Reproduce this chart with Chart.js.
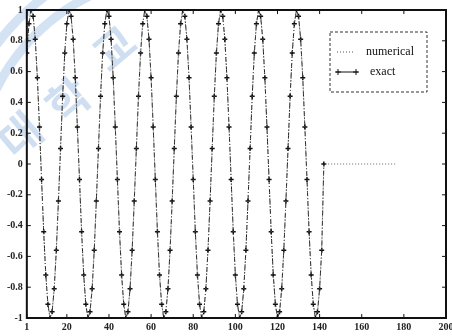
<!DOCTYPE html>
<html>
<head>
<meta charset="utf-8">
<script src="https://cdn.jsdelivr.net/npm/chart.js@4.4.0/dist/chart.umd.min.js"></script>
<style>
  html, body { margin: 0; padding: 0; background: #fff; overflow: hidden; }
  #wrap { width: 462px; height: 336px; }
</style>
</head>
<body>
<div id="wrap"><canvas id="chart" width="462" height="336"></canvas></div>
<script>
// sample positions of the exact solution
const exactX = [
    1, 2, 3, 4, 5, 6, 7, 8, 9, 10, 11, 12, 13, 14, 15, 16, 17, 18,
    19, 20, 21, 22, 23, 24, 25, 26, 27, 28, 29, 30, 31, 32, 33, 34, 35, 36,
    37, 38, 39, 40, 41, 42, 43, 44, 45, 46, 47, 48, 49, 50, 51, 52, 53, 54,
    55, 56, 57, 58, 59, 60, 61, 62, 63, 64, 65, 66, 67, 68, 69, 70, 71, 72,
    73, 74, 75, 76, 77, 78, 79, 80, 81, 82, 83, 84, 85, 86, 87, 88, 89, 90,
    91, 92, 93, 94, 95, 96, 97, 98, 99, 100, 101, 102, 103, 104, 105, 106, 107, 108,
    109, 110, 111, 112, 113, 114, 115, 116, 117, 118, 119, 120, 121, 122, 123, 124, 125, 126,
    127, 128, 129, 130, 131, 132, 133, 134, 135, 136, 137, 138, 139, 140, 141, 142
];

const exactY = [
    0.72, 0.91, 1.00, 0.96, 0.81, 0.56, 0.24, -0.10, -0.44, -0.72, -0.91, -1.00, -0.96, -0.81, -0.56, -0.24, 0.10, 0.44,
    0.72, 0.91, 1.00, 0.96, 0.81, 0.56, 0.24, -0.10, -0.44, -0.72, -0.91, -1.00, -0.96, -0.81, -0.56, -0.24, 0.10, 0.44,
    0.72, 0.91, 1.00, 0.96, 0.81, 0.56, 0.24, -0.10, -0.44, -0.72, -0.91, -1.00, -0.96, -0.81, -0.56, -0.24, 0.10, 0.44,
    0.72, 0.91, 1.00, 0.96, 0.81, 0.56, 0.24, -0.10, -0.44, -0.72, -0.91, -1.00, -0.96, -0.81, -0.56, -0.24, 0.10, 0.44,
    0.72, 0.91, 1.00, 0.96, 0.81, 0.56, 0.24, -0.10, -0.44, -0.72, -0.91, -1.00, -0.96, -0.81, -0.56, -0.24, 0.10, 0.44,
    0.72, 0.91, 1.00, 0.96, 0.81, 0.56, 0.24, -0.10, -0.44, -0.72, -0.91, -1.00, -0.96, -0.81, -0.56, -0.24, 0.10, 0.44,
    0.72, 0.91, 1.00, 0.96, 0.81, 0.56, 0.24, -0.10, -0.44, -0.72, -0.91, -1.00, -0.96, -0.81, -0.56, -0.24, 0.10, 0.44,
    0.72, 0.91, 1.00, 0.96, 0.81, 0.56, 0.24, -0.10, -0.44, -0.72, -0.91, -1.00, -0.96, -0.81, -0.56, 0.00
];

// numerical solution follows the exact one, then stays flat at zero
const numericalX = [...exactX, 176];
const numericalY = [...exactY, 0.00];

const xTicks = [1, 20, 40, 60, 80, 100, 120, 140, 160, 180, 200];
const yTicks = [-1, -0.8, -0.6, -0.4, -0.2, 0, 0.2, 0.4, 0.6, 0.8, 1];

const labelFont = { family: 'Liberation Serif', size: 10, weight: 'bold' };

function toPoints(xs, ys) {
    return xs.map((x, i) => ({ x: x, y: ys[i] }));
}

// faint scanned watermark behind the plot
const watermark = {
    id: 'watermark',
    beforeDraw(chart) {
        const ctx = chart.ctx;
        ctx.save();
        ctx.strokeStyle = 'rgba(170, 200, 232, 0.5)';
        ctx.lineWidth = 9;
        [205, 228].forEach(r => {
            ctx.beginPath();
            ctx.arc(180, 180, r, Math.PI * 1.02, Math.PI * 1.48);
            ctx.stroke();
        });
        ctx.fillStyle = 'rgba(160, 192, 228, 0.5)';
        ctx.font = 'bold 44px "Noto Sans CJK KR"';
        ctx.textAlign = 'center';
        ctx.textBaseline = 'middle';
        [['대', 20, 135], ['학', 68, 100], ['교', 114, 48]].forEach(([ch, x, y]) => {
            ctx.save();
            ctx.translate(x, y);
            ctx.rotate(-0.7);
            ctx.fillText(ch, 0, 0);
            ctx.restore();
        });
        ctx.restore();
    }
};

// box frame with inward ticks and the boxed legend
const frame = {
    id: 'frame',
    afterDraw(chart) {
        const ctx = chart.ctx;
        const a = chart.chartArea;
        const xs = chart.scales.x;
        const ys = chart.scales.y;
        ctx.save();
        ctx.strokeStyle = '#111';
        ctx.lineWidth = 1;
        xTicks.forEach(v => {
            const px = xs.getPixelForValue(v);
            ctx.beginPath();
            ctx.moveTo(px, a.bottom); ctx.lineTo(px, a.bottom - 4);
            ctx.moveTo(px, a.top); ctx.lineTo(px, a.top + 4);
            ctx.stroke();
        });
        yTicks.forEach(v => {
            const py = ys.getPixelForValue(v);
            ctx.beginPath();
            ctx.moveTo(a.left, py); ctx.lineTo(a.left + 4, py);
            ctx.moveTo(a.right, py); ctx.lineTo(a.right - 4, py);
            ctx.stroke();
        });
        ctx.lineWidth = 2;
        ctx.strokeRect(a.left, a.top, a.right - a.left, a.bottom - a.top);

        // legend
        const lx = a.right - 116, ly = a.top + 22;
        ctx.lineWidth = 1;
        ctx.setLineDash([3, 2]);
        ctx.strokeStyle = '#333';
        ctx.strokeRect(lx, ly, 97, 60);

        ctx.setLineDash([1, 2]);
        ctx.strokeStyle = '#555';
        ctx.beginPath();
        ctx.moveTo(lx + 7, ly + 20); ctx.lineTo(lx + 25, ly + 20);
        ctx.stroke();

        ctx.setLineDash([]);
        ctx.strokeStyle = '#111';
        ctx.beginPath();
        ctx.moveTo(lx + 6, ly + 40); ctx.lineTo(lx + 28, ly + 40);
        [lx + 8, lx + 26].forEach(px => {
            ctx.moveTo(px - 3, ly + 40); ctx.lineTo(px + 3, ly + 40);
            ctx.moveTo(px, ly + 37); ctx.lineTo(px, ly + 43);
        });
        ctx.stroke();

        ctx.fillStyle = '#111';
        ctx.font = '12px "Liberation Serif"';
        ctx.textBaseline = 'middle';
        ctx.fillText(chart.data.datasets[0].label, lx + 36, ly + 20);
        ctx.fillText(chart.data.datasets[1].label, lx + 40, ly + 40);
        ctx.restore();
    }
};

new Chart(document.getElementById('chart'), {
    type: 'line',
    data: {
        datasets: [
            {
                label: 'numerical',
                data: toPoints(numericalX, numericalY),
                borderColor: '#666',
                borderWidth: 1,
                borderDash: [1, 2],
                pointRadius: 0,
                tension: 0
            },
            {
                label: 'exact',
                data: toPoints(exactX, exactY),
                borderColor: '#222',
                borderWidth: 1,
                borderDash: [5, 2, 1, 2],
                pointStyle: 'cross',
                pointRadius: 2.5,
                pointBorderWidth: 1.5,
                pointBorderColor: '#111',
                tension: 0
            }
        ]
    },
    options: {
        responsive: false,
        animation: false,
        layout: { padding: { top: 6, left: 3, right: 16, bottom: 0 } },
        plugins: {
            legend: { display: false },
            tooltip: { enabled: false }
        },
        scales: {
            x: {
                type: 'linear',
                min: 1,
                max: 200,
                afterBuildTicks: axis => { axis.ticks = xTicks.map(v => ({ value: v })); },
                grid: { display: false, drawTicks: false },
                border: { display: false },
                ticks: { font: labelFont, color: '#222', padding: 3, maxRotation: 0, autoSkip: false,
                         callback: v => String(v) }
            },
            y: {
                min: -1,
                max: 1,
                afterBuildTicks: axis => { axis.ticks = yTicks.map(v => ({ value: v })); },
                grid: { display: false, drawTicks: false },
                border: { display: false },
                ticks: { font: labelFont, color: '#222', padding: 4, autoSkip: false,
                         callback: v => String(v) }
            }
        }
    },
    plugins: [watermark, frame]
});
</script>
</body>
</html>
